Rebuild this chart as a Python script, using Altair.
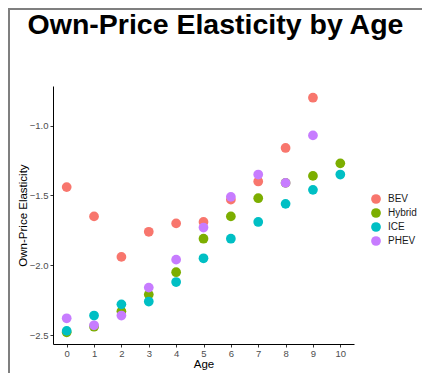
import altair as alt
import pandas as pd

ages = [0, 1, 2, 3, 4, 5, 6, 7, 8, 9, 10]
bev = [-1.44, -1.65, -1.94, -1.76, -1.70, -1.69, -1.53, -1.40, -1.16, -0.80]
hybrid = [-2.48, -2.44, -2.33, -2.21, -2.05, -1.81, -1.65, -1.52, -1.41, -1.36, -1.27]
ice = [-2.47, -2.36, -2.28, -2.26, -2.12, -1.95, -1.81, -1.69, -1.56, -1.46, -1.35]
phev = [-2.38, -2.43, -2.36, -2.16, -1.96, -1.73, -1.51, -1.35, -1.41, -1.07]

types = ["BEV", "Hybrid", "ICE", "PHEV"]
colors = ["#F8766D", "#7CAE00", "#00BFC4", "#C77CFF"]
series = {"BEV": bev, "Hybrid": hybrid, "ICE": ice, "PHEV": phev}

rows = []
for t in types:
    for a, v in zip(ages, series[t]):
        rows.append({"Age": a, "Elasticity": v, "Type": t})
df = pd.DataFrame(rows)

W, H = 301, 258
PL, PT = 45, 78

points = alt.Chart(df).mark_circle(size=95, opacity=1).encode(
    x=alt.X("Age:Q", scale=alt.Scale(domain=[-0.5, 10.5], nice=False, zero=False),
            axis=alt.Axis(values=ages, title="Age", format="d")),
    y=alt.Y("Elasticity:Q", scale=alt.Scale(domain=[-2.564, -0.716], nice=False, zero=False),
            axis=alt.Axis(values=[-2.5, -2.0, -1.5, -1.0], format=".1f",
                          title="Own-Price Elasticity")),
    color=alt.Color("Type:N", scale=alt.Scale(domain=types, range=colors), title=None,
                    legend=alt.Legend(orient="none", legendX=318, legendY=108,
                                      symbolSize=95, symbolType="circle",
                                      labelFontSize=10, labelOffset=7, rowPadding=4,
                                      padding=0, symbolStrokeWidth=0,
                                      symbolOpacity=1, labelColor="#1a1a1a")),
    order=alt.Order("Type:N"),
)

border_df = pd.DataFrame({"k": [0]})
left_border = alt.Chart(border_df).mark_rule(color="#7f7f7f", strokeWidth=2).encode(
    x=alt.value(-PL + 1), y=alt.value(-PT), y2=alt.value(H + 40))
top_border = alt.Chart(border_df).mark_rule(color="#7f7f7f", strokeWidth=2).encode(
    x=alt.value(-PL), x2=alt.value(W + 80), y=alt.value(-PT + 1))

chart = alt.layer(points, left_border, top_border).properties(
    width=W, height=H,
    autosize=alt.AutoSizeParams(type="none"),
    padding={"left": PL, "top": PT, "right": 68, "bottom": 29},
    title=alt.TitleParams("Own-Price Elasticity by Age", fontSize=28.5, fontWeight="bold",
                          font="Liberation Sans", color="black", anchor="middle",
                          dx=12, offset=-61, baseline="bottom"),
).configure(font="Liberation Sans").configure_view(stroke=None).configure_axis(
    grid=False, domainColor="black", domainWidth=1, tickColor="#333333", tickSize=3,
    labelColor="#4d4d4d", labelFontSize=9.5, titleColor="black", titleFontSize=11.5,
    titleFontWeight="normal",
).configure_axisX(labelPadding=1, titlePadding=1).configure_axisY(labelPadding=2, titlePadding=1)

chart.save("out.html", embed_options={"renderer": "svg", "actions": False})
